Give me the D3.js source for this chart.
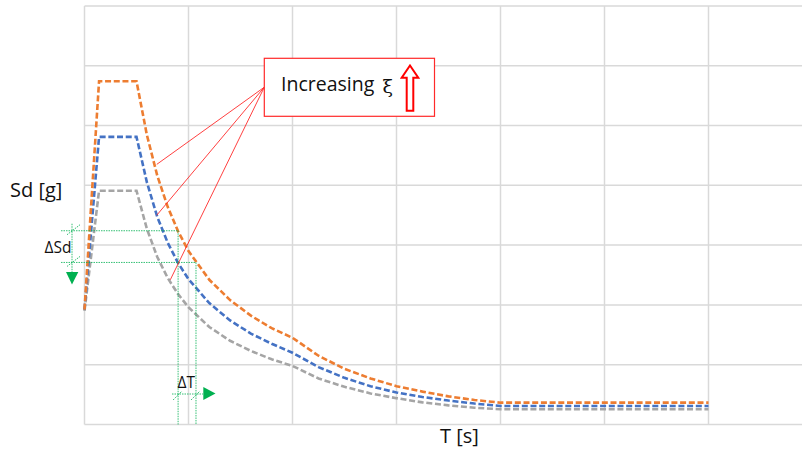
<!DOCTYPE html>
<html>
<head>
<meta charset="utf-8">
<script src="https://d3js.org/d3.v7.min.js"></script>
<style>
  html, body { margin: 0; padding: 0; background: #fff; }
  svg { display: block; }
  text { font-family: "Open Sans", "DejaVu Sans", sans-serif; fill: #111; }
</style>
</head>
<body>
<svg id="chart" width="802" height="450"></svg>
<script>
// ── Data ──
const periods = [0, 0.14, 0.5, 0.6, 0.7, 0.8, 0.9, 1.0, 1.2, 1.4, 1.6, 1.8, 2.0, 2.25, 2.5, 2.75, 3.0, 3.25, 3.5, 3.75, 4.0, 6.0];
const sdHigh = [1.92, 5.74, 5.74, 4.84, 4.16, 3.64, 3.23, 2.90, 2.42, 2.08, 1.82, 1.61, 1.45, 1.15, 0.93, 0.77, 0.64, 0.55, 0.47, 0.41, 0.365, 0.365];
const sdMid  = [1.92, 4.81, 4.81, 4.05, 3.47, 3.04, 2.70, 2.43, 2.03, 1.74, 1.52, 1.35, 1.20, 0.96, 0.78, 0.64, 0.535, 0.46, 0.40, 0.35, 0.31, 0.31];
const sdLow  = [1.90, 3.91, 3.91, 3.27, 2.80, 2.45, 2.18, 1.96, 1.63, 1.40, 1.23, 1.09, 0.98, 0.77, 0.63, 0.52, 0.44, 0.37, 0.32, 0.28, 0.255, 0.255];
const gridT = [0, 1, 2, 3, 4, 5, 6, 7];
const gridSd = [0, 1, 2, 3, 4, 5, 6, 7];

// annotation anchors, in chart units
const deltaT = [0.9, 1.072];
const deltaSd = [3.24, 2.71];
const leaderT = [0.695, 0.695, 0.825];
const leaderSd = [4.35, 3.50, 2.42];

const series = [
  { name: 'high', values: sdHigh, color: '#ED7D31' },
  { name: 'mid', values: sdMid, color: '#4472C4' },
  { name: 'low', values: sdLow, color: '#A5A5A5' },
];

const svg = d3.select('#chart');
const x = d3.scaleLinear().domain([0, 7]).range([84.5, 812.5]);
const y = d3.scaleLinear().domain([0, 7]).range([424.5, 5.9]);

// ── Grid ──
const grid = svg.append('g').attr('stroke', '#d9d9d9').attr('stroke-width', 1.5);
grid.selectAll('.gx').data(gridT).enter().append('line')
  .attr('x1', d => x(d)).attr('x2', d => x(d)).attr('y1', y(0)).attr('y2', y(7));
grid.selectAll('.gy').data(gridSd).enter().append('line')
  .attr('x1', x(0)).attr('x2', x(7)).attr('y1', d => y(d)).attr('y2', d => y(d));

// ── Spectra ──
const line = d3.line().x(d => x(d[0])).y(d => y(d[1]));
series.slice().reverse().forEach(s => {
  svg.append('path')
    .datum(periods.map((t, i) => [t, s.values[i]]))
    .attr('d', line)
    .attr('fill', 'none').attr('stroke', s.color)
    .attr('stroke-width', 2.6).attr('stroke-dasharray', '6 2.7');
});

// ── ΔSd / ΔT construction lines ──
const green = '#00B050';
const dims = svg.append('g').attr('stroke', green).attr('stroke-width', 0.8)
  .attr('stroke-dasharray', '1.5 1').attr('fill', 'none');
const leftX = 61;
deltaSd.forEach((sd, i) => {
  dims.append('line').attr('x1', leftX).attr('x2', x(deltaT[i])).attr('y1', y(sd)).attr('y2', y(sd));
  dims.append('line').attr('x1', x(deltaT[i])).attr('x2', x(deltaT[i])).attr('y1', y(sd)).attr('y2', y(0));
});
// vertical dimension for ΔSd
const dimX = 72;
dims.append('line').attr('x1', dimX).attr('x2', dimX).attr('y1', y(deltaSd[0]) - 7).attr('y2', 272);
deltaSd.forEach(sd => {
  dims.append('line').attr('x1', dimX - 5).attr('x2', dimX + 8).attr('y1', y(sd) + 4).attr('y2', y(sd) - 6);
});
svg.append('path').attr('fill', green)
  .attr('d', `M${dimX - 6},272 L${dimX + 6.3},272 L${dimX},284.5 Z`);
svg.append('text').attr('x', 44.5).attr('y', 252.5).attr('font-size', 15.5).text('ΔSd');

// horizontal dimension for ΔT
const dimY = 394;
dims.append('line').attr('x1', 172).attr('x2', 203).attr('y1', dimY).attr('y2', dimY);
deltaT.forEach(t => {
  dims.append('line').attr('x1', x(t) - 5).attr('x2', x(t) + 4).attr('y1', dimY + 6).attr('y2', dimY - 3);
});
svg.append('path').attr('fill', green)
  .attr('d', `M203.3,387 L203.3,400 L215.5,393.5 Z`);
svg.append('text').attr('x', 177.5).attr('y', 388).attr('font-size', 15.5).text('ΔT');

// ── "Increasing ξ" callout ──
const red = '#ff2a2a';
const box = { x0: 264.3, y0: 58.3, x1: 434.5, y1: 116.3 };
const anchor = [box.x0, 87.2];
svg.append('g').attr('stroke', red).attr('stroke-width', 0.9)
  .selectAll('line').data(leaderT).enter().append('line')
  .attr('x1', anchor[0]).attr('y1', anchor[1])
  .attr('x2', d => x(d)).attr('y2', (d, i) => y(leaderSd[i]));
svg.append('rect')
  .attr('x', box.x0).attr('y', box.y0)
  .attr('width', box.x1 - box.x0).attr('height', box.y1 - box.y0)
  .attr('fill', '#fff').attr('stroke', red).attr('stroke-width', 1.2);
svg.append('text').attr('x', 281).attr('y', 91).attr('font-size', 19.5).text('Increasing');
svg.append('text').attr('x', 382.5).attr('y', 93).attr('font-size', 19)
  .style('font-family', '"DejaVu Serif", serif').text('ξ');
svg.append('path')
  .attr('d', 'M410,65.5 L418.3,77.7 L413.3,77.7 L413.3,110.8 L406.7,110.8 L406.7,77.7 L401.7,77.7 Z')
  .attr('fill', '#fff').attr('stroke', '#ff0000').attr('stroke-width', 2);

// ── Axis titles ──
svg.append('text').attr('x', 10).attr('y', 197).attr('font-size', 20).text('Sd [g]');
svg.append('text').attr('x', 440).attr('y', 442.5).attr('font-size', 20).text('T [s]');
</script>
</body>
</html>
